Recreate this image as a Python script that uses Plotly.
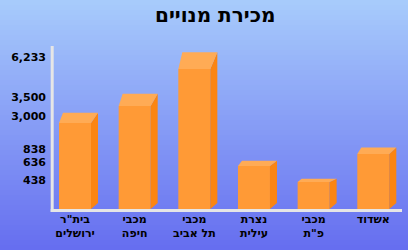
import numpy as np
import plotly.graph_objects as go

# ---- data (left to right as drawn) ----
teams = ['בית"ר\nירושלים', 'מכבי\nחיפה', 'מכבי\nתל אביב',
         'נצרת\nעילית', 'מכבי\nפ"ת', 'אשדוד']
subscriptions = [3000, 3500, 6233, 636, 438, 838]
title_text = "מכירת מנויים"

# The original chart uses a hand-drawn, non-linear value axis.
# Breakpoints of that axis: value -> axis height units.
axis_break_values = [0, 438, 636, 838, 3000, 3500, 6233]
axis_break_heights = [0, 27, 43, 55, 86, 103, 140]

W, H = 408, 250
PLOT_L, PLOT_R, PLOT_T, PLOT_B = 53, 402, 46, 209
PX_PER_CAT = 59.66
X0 = -(75 - PLOT_L) / PX_PER_CAT
X1 = X0 + (PLOT_R - PLOT_L) / PX_PER_CAT
Y_RANGE = [0, PLOT_B - PLOT_T]


def scale(v):
    return float(np.interp(v, axis_break_values, axis_break_heights))


idx = list(range(len(teams)))
heights = [scale(v) for v in subscriptions]
line1 = [t.split("\n")[0] for t in teams]
line2 = [(t.split("\n") + [""])[1] for t in teams]

bar_w = 32 / PX_PER_CAT
dx_r = 7 / PX_PER_CAT
dx_l = 4 / PX_PER_CAT
depth_k = 0.12
back_base = 6

FRONT = "#FF9A36"
CAP = "#FFAB55"
SIDE = "#FB8512"
AXIS = "#E6E6E6"

fig = go.Figure()
fig.add_trace(go.Bar(
    x=idx, y=heights, width=bar_w,
    marker=dict(color=FRONT, line=dict(width=0)),
    customdata=subscriptions, hovertemplate="%{customdata:,}<extra></extra>",
))
# invisible trace so the second label row axis is drawn
fig.add_trace(go.Scatter(x=idx, y=heights, xaxis="x2", mode="markers",
                         marker=dict(opacity=0), hoverinfo="skip"))

shapes = []
# background gradient
top_c = np.array([168, 204, 252])
bot_c = np.array([102, 110, 240])
n = 50
for k in range(n):
    t = (k + 0.5) / n
    c = top_c + (bot_c - top_c) * t
    shapes.append(dict(type="rect", xref="paper", yref="paper",
                       x0=0, x1=1, y0=1 - (k + 1) / n - 0.002, y1=1 - k / n,
                       fillcolor=f"rgb({int(c[0])},{int(c[1])},{int(c[2])})",
                       line=dict(width=0), layer="below"))

for i, h in zip(idx, heights):
    xl, xr = i - bar_w / 2, i + bar_w / 2
    d = depth_k * h
    side = f"M {xr},0 L {xr},{h} L {xr+dx_r},{h+d} L {xr+dx_r},{back_base} Z"
    cap = f"M {xl},{h} L {xr},{h} L {xr+dx_r},{h+d} L {xl+dx_l},{h+d} Z"
    shapes.append(dict(type="path", path=side, xref="x", yref="y",
                       fillcolor=SIDE, line=dict(width=0)))
    shapes.append(dict(type="path", path=cap, xref="x", yref="y",
                       fillcolor=CAP, line=dict(width=0)))

# axis frame (L shape)
shapes.append(dict(type="line", xref="paper", yref="paper",
                   x0=52.2 / W, x1=52.2 / W, y0=(H - 46) / H, y1=(H - 212) / H,
                   line=dict(color=AXIS, width=3)))
shapes.append(dict(type="line", xref="paper", yref="paper",
                   x0=50.7 / W, x1=402 / W, y0=(H - 210.6) / H, y1=(H - 210.6) / H,
                   line=dict(color=AXIS, width=3)))

tick_pos = [scale(v) * (1 + depth_k * 0.7) for v in subscriptions]

label_font = dict(size=11, family="DejaVu Sans", color="black")
fig.update_layout(
    width=W, height=H,
    margin=dict(l=0, r=0, t=0, b=0),
    paper_bgcolor="rgb(168,204,252)",
    plot_bgcolor="rgba(0,0,0,0)",
    showlegend=False,
    shapes=shapes,
    font=dict(family="DejaVu Sans", color="black"),
    xaxis=dict(domain=[PLOT_L / W, PLOT_R / W], range=[X0, X1],
               tickmode="array", tickvals=idx,
               ticktext=[f"<b>{t}</b>" for t in line1],
               tickfont=label_font,
               showgrid=False, zeroline=False, showline=False,
               ticks="", ticklabelstandoff=2),
    xaxis2=dict(domain=[PLOT_L / W, PLOT_R / W], range=[X0, X1],
                overlaying="x", anchor="free", position=(H - 223) / H,
                side="bottom",
                tickmode="array", tickvals=idx,
                ticktext=[f"<b>{t}</b>" for t in line2],
                tickfont=label_font,
                showgrid=False, zeroline=False, showline=False,
                ticks="", ticklabelstandoff=2),
    yaxis=dict(domain=[(H - PLOT_B) / H, (H - PLOT_T) / H], range=Y_RANGE,
               tickmode="array", tickvals=tick_pos,
               ticktext=[f"<b>{v:,}</b>" for v in subscriptions],
               tickfont=dict(size=11, family="DejaVu Sans", color="black"),
               showgrid=False, zeroline=False, showline=False,
               ticks="", ticklabelstandoff=6),
    annotations=[dict(text=f"<b>{title_text}</b>", xref="paper", yref="paper",
                      x=215 / W, y=(H - 15) / H, xanchor="center", yanchor="middle",
                      showarrow=False,
                      font=dict(size=20, family="DejaVu Sans", color="black"))],
)

fig.write_html("out.html")
